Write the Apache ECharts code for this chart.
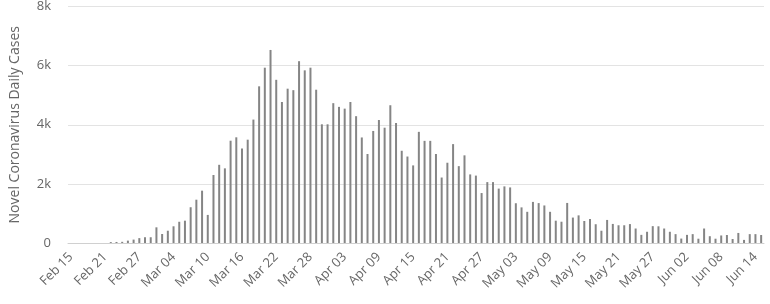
<!DOCTYPE html>
<html>
<head>
<meta charset="utf-8">
<script src="https://cdn.jsdelivr.net/npm/echarts@6/dist/echarts.min.js"></script>
<style>
html,body{margin:0;padding:0;background:#fff;}
#chart{width:770px;height:304px;}
</style>
</head>
<body>
<div id="chart"></div>
<script>
const categories = [
  "Feb 15","Feb 16","Feb 17","Feb 18","Feb 19","Feb 20","Feb 21","Feb 22","Feb 23","Feb 24","Feb 25","Feb 26","Feb 27","Feb 28","Feb 29",
  "Mar 01","Mar 02","Mar 03","Mar 04","Mar 05","Mar 06","Mar 07","Mar 08","Mar 09","Mar 10","Mar 11","Mar 12","Mar 13","Mar 14","Mar 15","Mar 16","Mar 17","Mar 18","Mar 19","Mar 20","Mar 21","Mar 22","Mar 23","Mar 24","Mar 25","Mar 26","Mar 27","Mar 28","Mar 29","Mar 30","Mar 31",
  "Apr 01","Apr 02","Apr 03","Apr 04","Apr 05","Apr 06","Apr 07","Apr 08","Apr 09","Apr 10","Apr 11","Apr 12","Apr 13","Apr 14","Apr 15","Apr 16","Apr 17","Apr 18","Apr 19","Apr 20","Apr 21","Apr 22","Apr 23","Apr 24","Apr 25","Apr 26","Apr 27","Apr 28","Apr 29","Apr 30",
  "May 01","May 02","May 03","May 04","May 05","May 06","May 07","May 08","May 09","May 10","May 11","May 12","May 13","May 14","May 15","May 16","May 17","May 18","May 19","May 20","May 21","May 22","May 23","May 24","May 25","May 26","May 27","May 28","May 29","May 30","May 31",
  "Jun 01","Jun 02","Jun 03","Jun 04","Jun 05","Jun 06","Jun 07","Jun 08","Jun 09","Jun 10","Jun 11","Jun 12","Jun 13","Jun 14","Jun 15"
];
const dailyCases = [
  0,0,0,0,0,0,0,30,35,40,
  80,115,165,195,195,530,305,415,565,718,
  755,1210,1465,1770,950,2300,2645,2525,3460,3575,
  3195,3495,4175,5300,5930,6530,5520,4770,5220,5170,
  6150,5840,5930,5185,4015,4015,4730,4605,4545,4770,
  4290,3570,3010,3790,4160,3900,4660,4060,3120,2925,
  2625,3760,3455,3455,3010,2215,2715,3345,2600,2965,
  2320,2280,1690,2060,2060,1840,1915,1880,1345,1205,
  1055,1390,1350,1270,1055,755,720,1355,860,935,
  745,815,635,415,780,645,600,600,640,490,
  275,380,570,565,490,380,300,150,275,300,
  145,490,230,145,255,270,135,340,105,300,
  300,270
];
const yTicks = { min: 0, max: 8000, interval: 2000 };
const seriesName = "Novel Coronavirus Daily Cases";

const chart = echarts.init(document.getElementById('chart'), null, {renderer:'canvas'});
chart.setOption({
  animation: false,
  backgroundColor: '#fff',
  grid: { left: 62, right: 6, top: 4, bottom: 61, containLabel: false },
  xAxis: {
    type: 'category',
    data: categories,
    boundaryGap: true,
    axisLine: { show: true, lineStyle: { color: '#d0d0d0', width: 1 } },
    axisTick: { show: false },
    axisLabel: {
      interval: 5,
      rotate: 45,
      margin: 12,
      color: '#666',
      fontFamily: 'Open Sans',
      fontSize: 13
    },
    splitLine: { show: false }
  },
  yAxis: {
    type: 'value',
    min: yTicks.min,
    max: yTicks.max,
    interval: yTicks.interval,
    name: seriesName,
    nameLocation: 'middle',
    nameGap: 46,
    nameRotate: 90,
    nameTextStyle: { color: '#666', fontFamily: 'Open Sans', fontSize: 14 },
    axisLine: { show: false },
    axisTick: { show: false },
    axisLabel: {
      margin: 17,
      color: '#666',
      fontFamily: 'Open Sans',
      fontSize: 13,
      formatter: v => v === 0 ? '0' : (v / 1000) + 'k'
    },
    splitLine: { show: true, lineStyle: { color: '#e3e3e3', width: 1 } }
  },
  series: [{
    name: seriesName,
    type: 'bar',
    data: dailyCases,
    barWidth: 2,
    itemStyle: { color: '#858585' }
  }]
});
</script>
</body>
</html>
